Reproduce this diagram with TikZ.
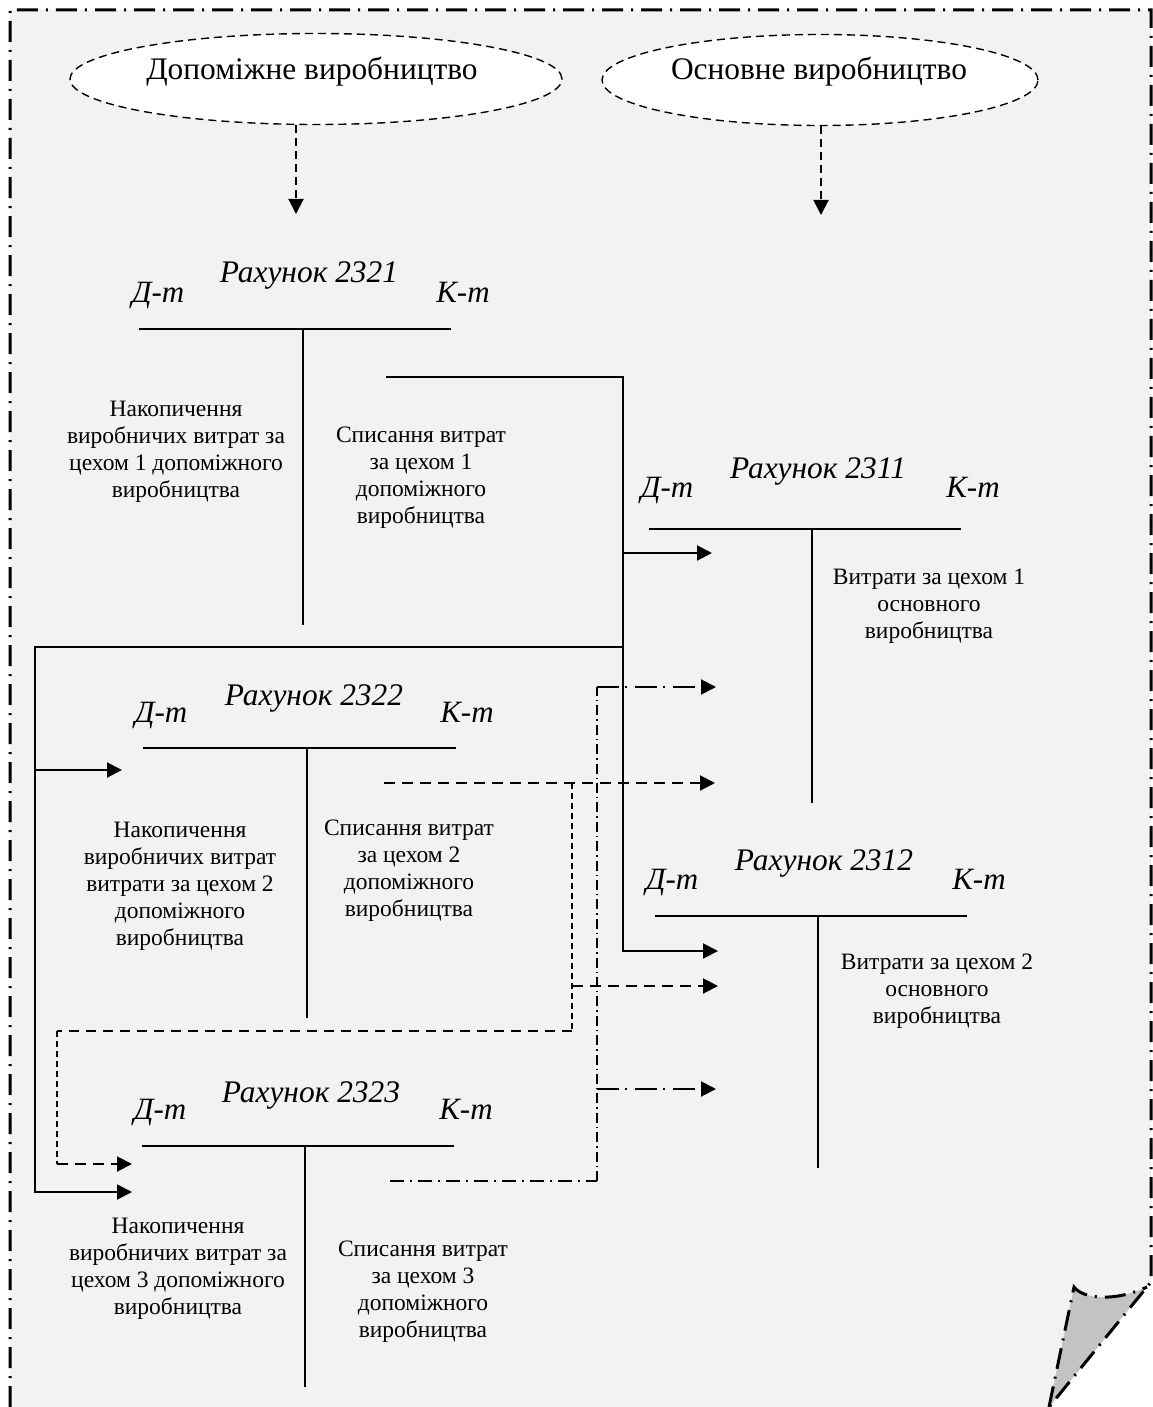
\documentclass[tikz,border=0pt]{standalone}
\usepackage{fontspec}
\setmainfont{Liberation Serif}
\usetikzlibrary{arrows.meta,shapes.geometric}
\definecolor{pagegray}{HTML}{F2F2F2}
\definecolor{curlgray}{HTML}{C3C3C3}
\newcommand\txtBody{\fontsize{11.75}{13.5}\selectfont}
\newcommand\txtTitle{\fontsize{15.7}{18}\selectfont\itshape}
\newcommand\txtSide{\fontsize{15.5}{18}\selectfont\itshape}
\newcommand\txtOval{\fontsize{15.7}{18}\selectfont}

\begin{document}
\begin{tikzpicture}[x=0.5pt,y=-0.5pt,
  frameline/.style={line width=1.5pt, dash pattern=on 10.5pt off 4pt on 1pt off 4pt},
  oval/.style={ellipse, draw, fill=white, line width=0.7pt, dash pattern=on 4pt off 2.5pt, inner sep=0pt, minimum height=45.5pt},
  ovaltext/.style={font=\txtOval, inner sep=0pt, anchor=base},
  title/.style={font=\txtTitle, inner sep=0pt, anchor=base},
  side/.style={font=\txtSide, inner sep=0pt, anchor=base},
  body/.style={font=\txtBody, align=center, inner sep=0pt},
  tbar/.style={line width=0.9pt},
  tip/.style={-{Triangle[length=7.5pt,width=7.5pt]}},
  solidlink/.style={line width=1pt, line join=miter},
  droplink/.style={line width=1pt, dash pattern=on 4pt off 2.5pt},
  dashthick/.style={line width=1pt, dash pattern=on 5.5pt off 3.5pt},
  dashmid/.style={line width=0.75pt, dash pattern=on 5pt off 3.5pt},
  dashthin/.style={line width=0.6pt, dash pattern=on 3pt off 2pt},
  ddthick/.style={line width=1pt, dash pattern=on 11pt off 3pt on 1pt off 4pt},
  ddmid/.style={line width=0.8pt, dash pattern=on 7pt off 3pt on 1pt off 3pt},
  ddthin/.style={line width=0.6pt, dash pattern=on 5pt off 2pt on 0.7pt off 2pt},
]
\useasboundingbox (0,0) rectangle (1152,1407);

% sheet of paper with a curled corner
\fill[pagegray] (10,10) -- (1151,10) -- (1151,1282) -- (1049,1407) -- (10,1407) -- cycle;
\fill[curlgray] (1074,1287) .. controls (1083,1299) and (1115,1302) .. (1147,1287) -- (1049,1407) -- cycle;
\draw[frameline] (10,1407) -- (10,10) -- (1151,10) -- (1151,1282) -- (1049,1407);
\draw[frameline] (1049,1407) -- (1074,1287) .. controls (1083,1299) and (1115,1302) .. (1147,1287);

% production kinds
\node[oval, minimum width=246pt] (aux) at (316,79) {};
\node[ovaltext] (auxtxt) at (312,80) {Допоміжне виробництво};
\node[oval, minimum width=218pt] (main) at (820,80) {};
\node[ovaltext] (maintxt) at (819,80) {Основне виробництво};
\coordinate (auxtip) at (296,214);
\coordinate (maintip) at (821,215);
\draw[droplink, tip] (aux.south -| auxtip) -- (auxtip);
\draw[droplink, tip] (main.south -| maintip) -- (maintip);

% account 2321
\node[title] (aT) at (309,283) {Рахунок 2321};
\node[side] (aD) at (158,302) {Д-т};
\node[side] (aK) at (463,302) {К-т};
\coordinate (aL) at (139,329); \coordinate (aR) at (451,329);
\coordinate (aM) at (303,329); \coordinate (aB) at (303,625);
\draw[tbar] (aL) -- (aR); \draw[tbar] (aM) -- (aB);
\node[body] (aDtxt) at (176,452) {Накопичення\\виробничих витрат за\\цехом 1 допоміжного\\виробництва};
\node[body] (aKtxt) at (421,478) {Списання витрат\\за цехом 1\\допоміжного\\виробництва};

% account 2322
\node[title] (bT) at (314,705) {Рахунок 2322};
\node[side] (bD) at (161,722) {Д-т};
\node[side] (bK) at (467,722) {К-т};
\coordinate (bL) at (143,748); \coordinate (bR) at (456,748);
\coordinate (bM) at (307,748); \coordinate (bB) at (307,1018);
\draw[tbar] (bL) -- (bR); \draw[tbar] (bM) -- (bB);
\node[body] (bDtxt) at (180,886) {Накопичення\\виробничих витрат\\витрати за цехом 2\\допоміжного\\виробництва};
\node[body] (bKtxt) at (409,871) {Списання витрат\\за цехом 2\\допоміжного\\виробництва};

% account 2323
\node[title] (cT) at (311,1102) {Рахунок 2323};
\node[side] (cD) at (160,1119) {Д-т};
\node[side] (cK) at (466,1119) {К-т};
\coordinate (cL) at (142,1146); \coordinate (cR) at (454,1146);
\coordinate (cM) at (305,1146); \coordinate (cB) at (305,1387);
\draw[tbar] (cL) -- (cR); \draw[tbar] (cM) -- (cB);
\node[body] (cDtxt) at (178,1269) {Накопичення\\виробничих витрат за\\цехом 3 допоміжного\\виробництва};
\node[body] (cKtxt) at (423,1292) {Списання витрат\\за цехом 3\\допоміжного\\виробництва};

% account 2311
\node[title] (mT) at (818,478) {Рахунок 2311};
\node[side] (mD) at (667,497) {Д-т};
\node[side] (mK) at (973,497) {К-т};
\coordinate (mL) at (649,529); \coordinate (mR) at (961,529);
\coordinate (mM) at (812,529); \coordinate (mB) at (812,803);
\draw[tbar] (mL) -- (mR); \draw[tbar] (mM) -- (mB);
\node[body] (mKtxt) at (929,606) {Витрати за цехом 1\\основного\\виробництва};

% account 2312
\node[title] (nT) at (824,870) {Рахунок 2312};
\node[side] (nD) at (672,889) {Д-т};
\node[side] (nK) at (979,889) {К-т};
\coordinate (nL) at (655,916); \coordinate (nR) at (967,916);
\coordinate (nM) at (818,916); \coordinate (nB) at (818,1168);
\draw[tbar] (nL) -- (nR); \draw[tbar] (nM) -- (nB);
\node[body] (nKtxt) at (937,991) {Витрати за цехом 2\\основного\\виробництва};

% write-off of shop 1 (solid)
\coordinate (aOut) at (386,377);
\coordinate (busTop) at (623,377);
\coordinate (busJ1) at (623,553); \coordinate (tipM1) at (712,553);
\coordinate (busJ2) at (623,647);
\coordinate (busEnd) at (623,951); \coordinate (tipN1) at (718,951);
\coordinate (leftTop) at (35,647);
\coordinate (leftJ) at (35,770); \coordinate (tipB1) at (122,770);
\coordinate (leftEnd) at (35,1192); \coordinate (tipC1) at (132,1192);
\draw[solidlink, tip] (aOut) -- (busTop) -- (busEnd) -- (tipN1);
\draw[solidlink, tip] (busJ1) -- (tipM1);
\draw[solidlink, tip] (busJ2) -- (leftTop) -- (leftEnd) -- (tipC1);
\draw[solidlink, tip] (leftJ) -- (tipB1);

% write-off of shop 2 (dashed)
\coordinate (bOut) at (384,783);
\coordinate (dJ1) at (572,783); \coordinate (tipM2) at (715,783);
\coordinate (dJ2) at (572,986); \coordinate (tipN2) at (718,986);
\coordinate (dC1) at (572,1031); \coordinate (dC2) at (57,1031);
\coordinate (dC3) at (57,1164); \coordinate (tipC2) at (132,1164);
\draw[dashthick, tip] (bOut) -- (tipM2);
\draw[dashthin] (dJ1) -- (dC1);
\draw[dashmid] (dC1) -- (dC2);
\draw[dashthin] (dC2) -- (dC3);
\draw[dashthick, tip] (dC3) -- (tipC2);
\draw[dashthick, tip] (dJ2) -- (tipN2);

% write-off of shop 3 (dash-dot)
\coordinate (cOut) at (390,1181);
\coordinate (eC) at (597,1181);
\coordinate (eJ1) at (597,1089); \coordinate (tipN3) at (716,1089);
\coordinate (eTop) at (597,687); \coordinate (tipM3) at (716,687);
\draw[ddmid] (cOut) -- (eC);
\draw[ddthin] (eC) -- (eTop);
\draw[ddthick, tip] (eTop) -- (tipM3);
\draw[ddthick, tip] (eJ1) -- (tipN3);
\end{tikzpicture}
\end{document}
